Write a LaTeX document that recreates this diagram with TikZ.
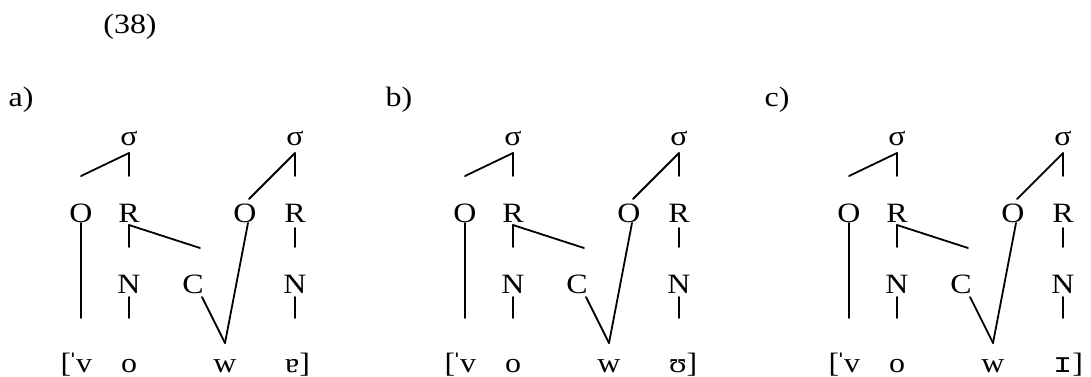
\documentclass[tikz,border=0pt]{standalone}
\usepackage{fontspec}
\setmainfont{Liberation Serif}
\newfontfamily\monoipa{Liberation Mono}
\usetikzlibrary{calc}
\newcommand\sx[1]{\scalebox{1.14}[1]{#1}}
\tikzset{
  lab/.style={anchor=base, inner sep=0pt, font=\fontsize{28}{30}\selectfont},
  br/.style={line width=1.8pt, line cap=round}
}
\begin{document}
\begin{tikzpicture}[x=1pt,y=-1pt]
\useasboundingbox (0,0) rectangle (1091,376);
\node[lab] (num) at (130,33) {\sx{(38)}};
\foreach \n/\dx/\lx/\vow in {a/0/21/{ɐ}, b/384/399/{ʊ}, c/768/777/{{\monoipa ɪ}}} {
  \begin{scope}[xshift=\dx pt]
    \node[lab] (lab\n) at (\lx-\dx,106) {\sx{\n)}};
    \node[lab] (sA\n) at (129,145) {\sx{σ}};
    \node[lab] (sB\n) at (295,145) {\sx{σ}};
    \node[lab] (OA\n) at (81,222) {\sx{O}};
    \node[lab] (RA\n) at (129,222) {\sx{R}};
    \node[lab] (OB\n) at (245,222) {\sx{O}};
    \node[lab] (RB\n) at (295,222) {\sx{R}};
    \node[lab] (NA\n) at (129,293) {\sx{N}};
    \node[lab] (C\n) at (193,293) {\sx{C}};
    \node[lab] (NB\n) at (295,293) {\sx{N}};
    \node[lab] (K\n) at (66,372) {\sx{[}};
    \node[lab] (S\n) at (73,372) {\sx{ˈ}};
    \node[lab] (L\n) at (84,372) {\sx{v}};
    \node[lab] (o\n) at (129,372) {\sx{o}};
    \node[lab] (w\n) at (225,372) {\sx{w}};
    \node[lab, anchor=base west] (V\n) at (285,372) {\sx{\vow]}};
    \draw[br] ($(sA\n.base)+(0,8)$) -- ($(OA\n.base)+(0,-46)$);
    \draw[br] ($(sA\n.base)+(0,8)$) -- ($(RA\n.base)+(0,-46)$);
    \draw[br] ($(sB\n.base)+(0,8)$) -- ($(OB\n.base)+(4,-23)$);
    \draw[br] ($(sB\n.base)+(0,8)$) -- ($(RB\n.base)+(0,-46)$);
    \draw[br] ($(OA\n.base)+(0,1)$) -- ($(OA\n.base |- L\n.base)+(0,-54)$);
    \draw[br] ($(RA\n.base)+(0,3)$) -- ($(NA\n.base)+(0,-46)$);
    \draw[br] ($(RA\n.base)+(0,3)$) -- ($(C\n.base)+(7,-45)$);
    \draw[br] ($(RB\n.base)+(0,6)$) -- ($(NB\n.base)+(0,-46)$);
    \draw[br] ($(NA\n.base)+(0,4)$) -- ($(o\n.base)+(0,-54)$);
    \draw[br] ($(C\n.base)+(9,4)$) -- ($(w\n.base)+(0,-29)$);
    \draw[br] ($(OB\n.base)+(3,1)$) -- ($(w\n.base)+(0,-29)$);
    \draw[br] ($(NB\n.base)+(0,4)$) -- ($(NB\n.base |- V\n.base)+(0,-54)$);
  \end{scope}
}
\end{tikzpicture}
\end{document}
